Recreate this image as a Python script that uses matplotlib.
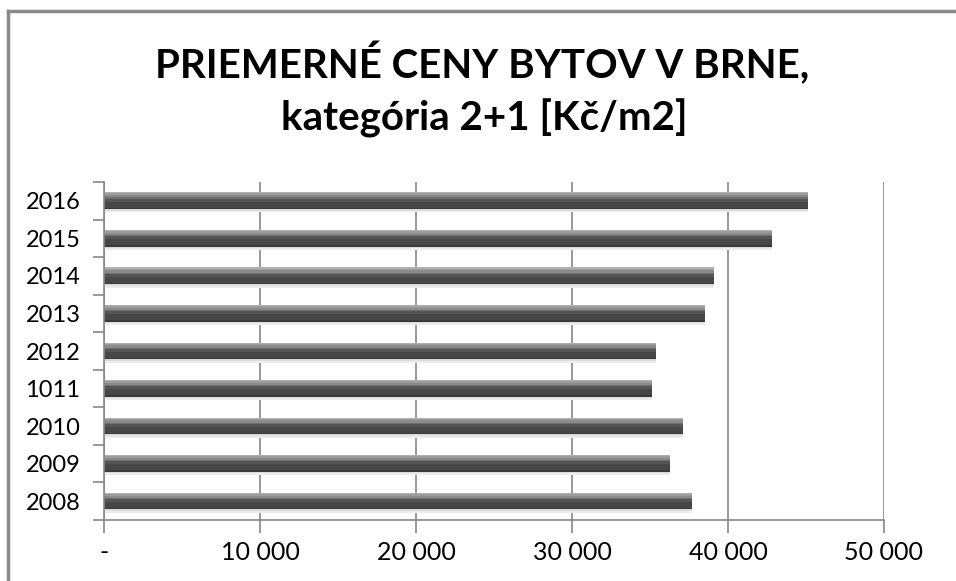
import matplotlib.pyplot as plt
from matplotlib.lines import Line2D
import numpy as np

# data
years = ['2008', '2009', '2010', '1011', '2012', '2013', '2014', '2015', '2016']
prices = [37700, 36300, 37100, 35100, 35400, 38500, 39100, 42800, 45100]
xticks = [0, 10000, 20000, 30000, 40000, 50000]
xlabels = ['-', '10 000', '20 000', '30 000', '40 000', '50 000']

plt.rcParams['font.family'] = ['Lato', 'DejaVu Sans']

fig = plt.figure(figsize=(9.56, 5.81), dpi=100)
ax = fig.add_axes([104/956, 61/581, 780/956, 338/581])

y = np.arange(len(years))
# fake 3d cylinder look: soft shadow, then bands from dark bottom to light top
ax.barh(y - 0.06, prices, height=0.50, color='#ececec', zorder=2)
ax.barh(y - 0.03, prices, height=0.46, color='#dcdcdc', zorder=2)
bands = [(-0.20, 0.04, '#3a3a3a'), (-0.10, 0.16, '#474747'), (0.02, 0.08, '#555555'),
         (0.08, 0.04, '#6e6e6e'), (0.12, 0.06, '#8a8a8a'), (0.175, 0.05, '#9c9c9c'),
         (0.21, 0.03, '#b0b0b0')]
for off, h, c in bands:
    ax.barh(y + off, prices, height=h, color=c, zorder=3)

ax.set_xlim(0, 50000)
ax.set_ylim(-0.5, len(years) - 0.5)
ax.set_xticks(xticks)
ax.set_xticklabels(xlabels, fontsize=18)
ax.set_yticks(y)
ax.set_yticklabels(years, fontsize=17)
ax.set_yticks(np.arange(-0.5, len(years)), minor=True)
ax.tick_params(axis='y', which='major', length=0, pad=17)
ax.tick_params(axis='y', which='minor', length=8, width=1.2, color='#868686')
ax.tick_params(axis='x', length=9, width=1.2, color='#868686', pad=6)
ax.grid(axis='x', color='#868686', linewidth=1.2, zorder=1)
ax.set_axisbelow(True)
for s in ['top', 'right']:
    ax.spines[s].set_visible(False)
for s in ['left', 'bottom']:
    ax.spines[s].set_color('#868686')
    ax.spines[s].set_linewidth(1.2)
    ax.spines[s].set_zorder(5)

fig.text(482/956, 1 - 64/581, 'PRIEMERNÉ CENY BYTOV V BRNE,', ha='center', va='center',
         fontsize=29, fontweight='bold')
fig.text(484/956, 1 - 118/581, 'kategória 2+1 [Kč/m2]', ha='center', va='center',
         fontsize=29, fontweight='bold')

# outer chart frame (left and top only visible)
fig.add_artist(Line2D([8/956, 8/956], [0, 1 - 11/581], color='#8a8a8a', linewidth=2.5))
fig.add_artist(Line2D([8/956, 1], [1 - 11/581, 1 - 11/581], color='#8a8a8a', linewidth=2.5))

fig.savefig('out.png', dpi=100)
